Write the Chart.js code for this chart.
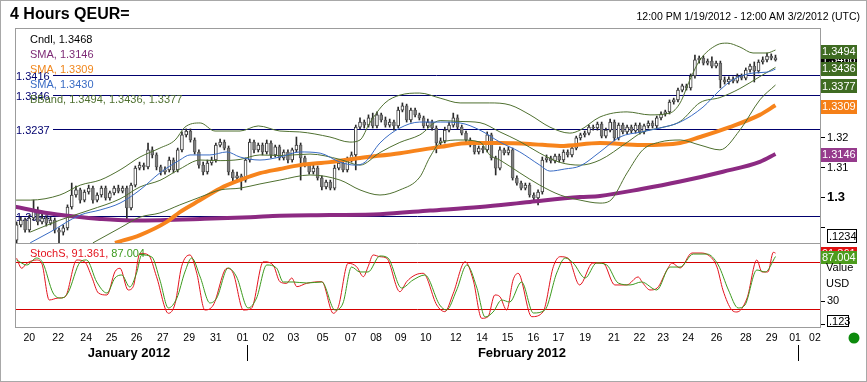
<!DOCTYPE html>
<html><head><meta charset="utf-8">
<script src="https://cdn.jsdelivr.net/npm/chart.js@4.4.1/dist/chart.umd.min.js"></script>
<style>
html,body{margin:0;padding:0;background:#fff;}
#wrap{position:relative;width:867px;height:382px;overflow:hidden;font-family:"Liberation Sans",Arial,sans-serif;}
#c{position:absolute;left:0;top:0;}
#title{position:absolute;left:10px;top:4px;font-weight:bold;font-size:16px;line-height:19px;color:#000;}
#range{position:absolute;right:7px;top:10px;font-size:10.5px;line-height:12px;color:#000;}
</style></head>
<body><div id="wrap"><canvas id="c" width="867" height="382"></canvas>
<div id="title">4 Hours QEUR=</div>
<div id="range">12:00 PM 1/19/2012 - 12:00 AM 3/2/2012 (UTC)</div></div>
<script>
// ---------- candles (4-hour bars, index 0 = 1/19 12:00) ----------
const open = [
1.2858,1.2909,1.2925,1.2892,1.2932,1.2959,1.2919,1.2932,1.2915,1.2925,
1.2892,1.2885,1.2899,1.2969,1.3009,1.3026,1.2992,1.3019,1.3032,1.2992,
1.3009,1.3032,1.2999,1.3016,1.3032,1.3022,1.3032,1.2966,1.3042,1.3099,
1.3109,1.3103,1.3160,1.3143,1.3103,1.3086,1.3093,1.3126,1.3093,1.3160,
1.3210,1.3223,1.3193,1.3153,1.3109,1.3086,1.3116,1.3126,1.3176,1.3186,
1.3166,1.3086,1.3066,1.3073,1.3059,1.3126,1.3186,1.3160,1.3176,1.3153,
1.3183,1.3143,1.3170,1.3133,1.3153,1.3126,1.3160,1.3176,1.3133,1.3109,
1.3086,1.3099,1.3066,1.3036,1.3052,1.3032,1.3099,1.3116,1.3093,1.3126,
1.3143,1.3236,1.3253,1.3243,1.3267,1.3240,1.3277,1.3260,1.3243,1.3253,
1.3240,1.3293,1.3307,1.3260,1.3293,1.3277,1.3267,1.3240,1.3253,1.3233,
1.3183,1.3190,1.3226,1.3243,1.3267,1.3236,1.3216,1.3193,1.3176,1.3153,
1.3166,1.3160,1.3210,1.3133,1.3099,1.3160,1.3150,1.3160,1.3066,1.3049,
1.3032,1.3042,1.3009,1.2999,1.3019,1.3126,1.3133,1.3123,1.3139,1.3126,
1.3153,1.3143,1.3166,1.3200,1.3210,1.3216,1.3236,1.3233,1.3246,1.3206,
1.3226,1.3253,1.3200,1.3243,1.3220,1.3236,1.3223,1.3243,1.3220,1.3240,
1.3250,1.3240,1.3267,1.3280,1.3287,1.3320,1.3327,1.3360,1.3374,1.3367,
1.3407,1.3461,1.3467,1.3450,1.3457,1.3440,1.3450,1.3394,1.3387,1.3397,
1.3390,1.3407,1.3400,1.3427,1.3440,1.3424,1.3454,1.3461,1.3474,1.3461];
const high = [
1.2919,1.2935,1.2932,1.2942,1.2992,1.2969,1.2945,1.2939,1.2935,1.2932,
1.2899,1.2909,1.2976,1.3049,1.3039,1.3032,1.3026,1.3042,1.3039,1.3016,
1.3039,1.3039,1.3022,1.3039,1.3042,1.3039,1.3039,1.3049,1.3106,1.3119,
1.3116,1.3183,1.3170,1.3150,1.3109,1.3103,1.3136,1.3133,1.3166,1.3220,
1.3230,1.3230,1.3200,1.3160,1.3119,1.3126,1.3136,1.3183,1.3196,1.3193,
1.3173,1.3093,1.3086,1.3079,1.3133,1.3196,1.3193,1.3183,1.3183,1.3193,
1.3190,1.3176,1.3176,1.3160,1.3160,1.3166,1.3203,1.3183,1.3139,1.3116,
1.3109,1.3106,1.3073,1.3059,1.3059,1.3109,1.3126,1.3123,1.3136,1.3153,
1.3243,1.3267,1.3260,1.3277,1.3283,1.3287,1.3283,1.3270,1.3263,1.3260,
1.3303,1.3317,1.3313,1.3300,1.3300,1.3283,1.3273,1.3263,1.3260,1.3240,
1.3200,1.3236,1.3253,1.3283,1.3277,1.3243,1.3223,1.3200,1.3183,1.3173,
1.3173,1.3220,1.3216,1.3139,1.3170,1.3166,1.3170,1.3166,1.3073,1.3056,
1.3049,1.3049,1.3016,1.3026,1.3136,1.3143,1.3139,1.3146,1.3146,1.3160,
1.3160,1.3173,1.3206,1.3216,1.3223,1.3243,1.3243,1.3253,1.3253,1.3233,
1.3263,1.3260,1.3250,1.3250,1.3243,1.3243,1.3250,1.3250,1.3246,1.3257,
1.3257,1.3273,1.3287,1.3293,1.3327,1.3333,1.3367,1.3380,1.3380,1.3414,
1.3477,1.3474,1.3474,1.3464,1.3471,1.3457,1.3457,1.3404,1.3404,1.3404,
1.3414,1.3414,1.3434,1.3447,1.3454,1.3461,1.3471,1.3484,1.3481,1.3477];
const low = [
1.2845,1.2902,1.2885,1.2885,1.2925,1.2909,1.2912,1.2905,1.2909,1.2882,
1.2848,1.2875,1.2892,1.2962,1.3002,1.2982,1.2986,1.3012,1.2982,1.2986,
1.3002,1.2992,1.2992,1.3009,1.3016,1.3016,1.2925,1.2959,1.3036,1.3093,
1.3093,1.3096,1.3133,1.3093,1.3076,1.3079,1.3086,1.3083,1.3086,1.3153,
1.3203,1.3186,1.3146,1.3099,1.3076,1.3079,1.3109,1.3119,1.3170,1.3160,
1.3076,1.3049,1.3059,1.3026,1.3052,1.3119,1.3150,1.3153,1.3143,1.3146,
1.3133,1.3136,1.3126,1.3126,1.3116,1.3119,1.3153,1.3059,1.3103,1.3079,
1.3079,1.3059,1.3026,1.3029,1.3026,1.3026,1.3093,1.3086,1.3086,1.3119,
1.3093,1.3230,1.3233,1.3236,1.3233,1.3233,1.3253,1.3236,1.3236,1.3226,
1.3233,1.3287,1.3253,1.3253,1.3270,1.3260,1.3233,1.3233,1.3226,1.3150,
1.3176,1.3183,1.3220,1.3236,1.3230,1.3210,1.3186,1.3170,1.3146,1.3146,
1.3150,1.3153,1.3126,1.3076,1.3093,1.3143,1.3143,1.3059,1.3042,1.3026,
1.3026,1.3002,1.2992,1.2976,1.3012,1.3119,1.3116,1.3116,1.3119,1.3119,
1.3136,1.3136,1.3160,1.3193,1.3203,1.3210,1.3226,1.3226,1.3200,1.3200,
1.3220,1.3190,1.3193,1.3213,1.3213,1.3216,1.3216,1.3213,1.3213,1.3233,
1.3233,1.3233,1.3260,1.3273,1.3280,1.3313,1.3320,1.3354,1.3360,1.3360,
1.3400,1.3450,1.3444,1.3444,1.3434,1.3434,1.3367,1.3380,1.3380,1.3384,
1.3384,1.3394,1.3394,1.3420,1.3387,1.3417,1.3447,1.3454,1.3461,1.3457];
const close = [
1.2909,1.2925,1.2892,1.2932,1.2959,1.2919,1.2932,1.2915,1.2925,1.2892,
1.2885,1.2899,1.2969,1.3009,1.3026,1.2992,1.3019,1.3032,1.2992,1.3009,
1.3032,1.2999,1.3016,1.3032,1.3022,1.3032,1.2966,1.3042,1.3099,1.3109,
1.3103,1.3160,1.3143,1.3103,1.3086,1.3093,1.3126,1.3093,1.3160,1.3210,
1.3223,1.3193,1.3153,1.3109,1.3086,1.3116,1.3126,1.3176,1.3186,1.3166,
1.3086,1.3066,1.3073,1.3059,1.3126,1.3186,1.3160,1.3176,1.3153,1.3183,
1.3143,1.3170,1.3133,1.3153,1.3126,1.3160,1.3176,1.3133,1.3109,1.3086,
1.3099,1.3066,1.3036,1.3052,1.3032,1.3099,1.3116,1.3093,1.3126,1.3143,
1.3236,1.3253,1.3243,1.3267,1.3240,1.3277,1.3260,1.3243,1.3253,1.3240,
1.3293,1.3307,1.3260,1.3293,1.3277,1.3267,1.3240,1.3253,1.3233,1.3183,
1.3190,1.3226,1.3243,1.3267,1.3236,1.3216,1.3193,1.3176,1.3153,1.3166,
1.3160,1.3210,1.3133,1.3099,1.3160,1.3150,1.3160,1.3066,1.3049,1.3032,
1.3042,1.3009,1.2999,1.3019,1.3126,1.3133,1.3123,1.3139,1.3126,1.3153,
1.3143,1.3166,1.3200,1.3210,1.3216,1.3236,1.3233,1.3246,1.3206,1.3226,
1.3253,1.3200,1.3243,1.3220,1.3236,1.3223,1.3243,1.3220,1.3240,1.3250,
1.3240,1.3267,1.3280,1.3287,1.3320,1.3327,1.3360,1.3374,1.3367,1.3407,
1.3461,1.3467,1.3450,1.3457,1.3440,1.3450,1.3394,1.3387,1.3397,1.3390,
1.3407,1.3400,1.3427,1.3440,1.3424,1.3454,1.3461,1.3474,1.3467,1.3468];

// ---------- indicator lines (bar index, value) ----------
const smaPurpleIdx = [-0.4,6.7,13.8,19.7,26.7,33.8,43.3,55.1,62.1,73.9,85.7,97.5,109.3,121.1,132.9,137.6,147.4,156.5,166.6,175.3,179];
const smaPurpleVal = [1.2970,1.2950,1.2937,1.2929,1.2924,1.2925,1.2929,1.2935,1.2940,1.2942,1.2945,1.2957,1.2969,1.2986,1.3002,1.3006,1.3029,1.3054,1.3087,1.3120,1.3146];
const smaOrangeIdx = [23.2,29.1,35.4,38.5,43.3,48,52.7,57.4,62.1,66.8,73.9,81,90.4,99.9,107,114,121.1,128.2,137.6,147.4,156.5,161.2,168.2,175.3,179];
const smaOrangeVal = [1.2849,1.2875,1.2919,1.2952,1.2992,1.3031,1.3059,1.3082,1.3096,1.3109,1.3119,1.3133,1.3149,1.3170,1.3183,1.3183,1.3180,1.3173,1.3183,1.3176,1.3183,1.3203,1.3236,1.3277,1.3309];
const smaBlueIdx = [3.2,7.9,15,19.7,24.4,29.1,33.8,38.5,40.9,45.6,49.6,52.7,57.4,62.1,66.8,71.6,76.3,79.8,82.2,85.7,90.4,95.1,99.9,104.6,109.3,114,118.7,123.4,125.8,129.3,132.9,137.6,142.3,147.4,151.7,156.5,161.9,165.9,168.9,173.7,177,179];
const smaBlueVal = [1.2849,1.2885,1.2942,1.2959,1.2982,1.3026,1.3083,1.3126,1.3143,1.3143,1.3153,1.3136,1.3126,1.3136,1.3153,1.3149,1.3119,1.3109,1.3119,1.3183,1.3233,1.3253,1.3253,1.3250,1.3226,1.3186,1.3153,1.3109,1.3089,1.3096,1.3106,1.3153,1.3203,1.3220,1.3233,1.3253,1.3303,1.3360,1.3394,1.3417,1.3420,1.3430];
const bbUpperIdx = [-0.4,3.2,10.2,15,19.7,24.4,29.1,33.8,37.4,39.7,43.3,46.8,52.7,57,62.1,66.8,73.9,78.6,81,83.3,86.9,90.4,95.1,99.9,104.6,111.6,116.4,121.1,125.8,130.5,132.9,137.6,144,149.4,154.1,156.5,158.8,161.2,165.2,167.6,170.6,173.7,177,179];
const bbUpperVal = [1.2992,1.2992,1.3009,1.3042,1.3059,1.3093,1.3136,1.3166,1.3193,1.3236,1.3250,1.3223,1.3223,1.3240,1.3223,1.3220,1.3203,1.3186,1.3193,1.3250,1.3317,1.3343,1.3350,1.3333,1.3317,1.3317,1.3310,1.3277,1.3236,1.3216,1.3226,1.3270,1.3287,1.3277,1.3283,1.3317,1.3394,1.3461,1.3511,1.3517,1.3504,1.3484,1.3484,1.3494];
const bbMidIdx = [3.2,10.2,17.3,24.4,29.1,33.8,38.5,43.3,48,52.7,57.4,62.1,69.2,76.3,81,85.7,90.4,95.1,99.9,104.6,109.3,114,118.7,123.4,128.2,132.9,137.6,144,147.7,151.7,156.5,161.2,165.9,170.6,175.3,179];
const bbMidVal = [1.2885,1.2925,1.2959,1.2996,1.3036,1.3058,1.3096,1.3126,1.3124,1.3128,1.3143,1.3141,1.3146,1.3128,1.3109,1.3151,1.3185,1.3210,1.3258,1.3255,1.3251,1.3220,1.3188,1.3149,1.3118,1.3109,1.3126,1.3185,1.3220,1.3233,1.3255,1.3318,1.3335,1.3365,1.3405,1.3436];
const bbLowIdx = [18,24.4,29.1,33.8,38.5,43.3,48,52.7,57.4,62.1,69.2,76.3,81,85.7,90.4,95.1,97.5,99.9,104.6,109.3,111.6,114,118.7,123.4,128.2,132.9,137.6,139.9,144,147.7,151.7,156.5,161.2,165.9,170.6,175.3,179];
const bbLowVal = [1.2849,1.2899,1.2935,1.2949,1.2976,1.3002,1.3026,1.3032,1.3046,1.3059,1.3076,1.3059,1.3026,1.3009,1.3026,1.3069,1.3136,1.3183,1.3193,1.3186,1.3143,1.3126,1.3083,1.3042,1.3009,1.2992,1.2982,1.2989,1.3083,1.3160,1.3186,1.3193,1.3176,1.3160,1.3226,1.3327,1.3377];

// ---------- slow stochastic ----------
const stochKIdx = [0,1.2,2.4,4.7,5.9,7.7,9.8,11.4,14.2,16.1,17.7,19.3,21.3,23.2,24.4,26.3,27.5,29.1,31.1,33,35.8,37.4,38.9,40.9,42.5,44.4,46.4,49.6,51.1,53.5,55.4,58.2,60.5,62.1,63.7,64.9,66.1,68.4,72,74.7,75.9,78.2,80.2,81.8,82.9,84.1,85.7,87.3,90.4,92,94,95.9,99.1,101,103,105.8,107.7,109.7,111.2,112.8,114,115.6,117.1,118.3,121.5,124.2,126.6,128.2,130.1,132.8,135.9,138.3,141.1,143.9,146.6,147.7,149.4,151.1,153.4,154.6,156.5,159.3,161.2,163.1,165.2,166.6,168.7,169.9,172.3,174.6,175.8,177.2,178.5,179];
const stochKVal = [84.8,72,78.4,82.6,78.7,31.5,34,35.3,82.6,80,61.3,40.4,37.9,67.6,72,44.3,48.5,91.1,89,61.3,14.5,27.3,74,89,65.6,18.7,25.1,72,65.6,18.7,20.9,80.4,76.2,54.9,52.8,59.6,48.5,52.8,54.9,14.5,22.9,78.4,74,61.3,74,89,86.8,84.8,42.1,54.9,63.4,65.6,25.1,16.6,40.1,80.4,57,8.1,10.2,37.9,35.7,18.7,57,65.6,10.2,16.6,74,86.8,84.8,50.7,78.7,78.7,50.7,50.7,60.9,53.2,44.3,46.8,69.8,78.7,72.4,91.5,91.5,89,73.6,44.3,18.7,16.2,34,82.6,67.3,67.3,92.5,91.361];
const stochDIdx = [0,2.4,4.7,6.2,8.6,10.6,12.1,15,16.5,18.9,21.3,23.2,24.8,26.7,28.3,29.5,31.9,33.8,35.8,37.8,39.7,41.3,43.3,45.6,47.2,49.9,51.9,54.6,56.6,59,61.3,62.9,65.2,68.4,72,75.1,77,79,81,82.9,85.7,87.6,90.8,93.5,96.3,99.8,101.4,103.8,106.2,108.5,110.5,112.4,114.4,116.3,119.1,121.9,124.6,127.4,129.4,131.3,134.1,136.8,139.2,141.9,144.7,147.4,151,154.1,156.5,159.6,162.8,165.5,167.9,170.2,171.8,174.6,176.6,179];
const stochDVal = [82.6,76.2,85.1,78.7,40.4,34,40.4,80,82.6,54.5,40.4,59.6,63.4,48.1,66,89,86.4,57,21.3,34,67.3,85.1,60.9,27.7,34,72.4,60.9,21.3,34,76.2,72.4,54.5,54.5,53.2,54.5,18.7,27.7,73.6,67.3,67.3,87.7,85.1,46.8,57,63.4,25.1,18.7,44.3,76.2,48.1,9.8,16.2,31.5,28.9,54.5,14.9,18.7,66,85.1,78.7,59.6,78.7,76.2,53.2,50.7,54.5,44.3,73.6,73.6,90.2,90.2,76.2,44.3,21.3,25.1,69.8,67.3,87.004];
const stochBands = [80, 20];

// ---------- drawn horizontal levels ----------
const levelValues = [1.3410, 1.3343, 1.3231, 1.2940];
const levelLabels = ['1.3416', '1.3346', '1.3237', '1.2994'];

// ---------- axes ----------
const dayTickIdx = [3.0,9.8,16.4,22.4,28.3,34.5,40.7,47.0,53.3,59.4,65.3,72.2,78.8,84.8,90.6,96.5,103.6,109.8,115.8,121.9,127.8,134.1,140.9,146.9,152.5,158.4,165.1,172.0,178.1,183.6,188.3];
const dayTickLabels = ['20','22','24','25','26','27','29','31','01','02','03','05','07','08','09','10','12','14','15','16','17','19','21','22','23','24','26','28','29','01','02'];
const monthLabels = ['January 2012', 'February 2012'];
const monthLabelIdx = [26.5, 119.2];
const monthMarkIdx = [54.4, 184.4];
const priceTickVals = [1.29, 1.30, 1.31, 1.32];
const priceTickText = ['', '1.3', '1.31', '1.32'];
const stochTickVals = [0, 30];
const stochTickText = ['', '30'];

const FONT = '"Liberation Sans", Arial, sans-serif';
Chart.defaults.font.family = FONT;
Chart.defaults.color = '#000';

const pts = (idx, val) => idx.slice(0, Math.min(idx.length, val.length)).map((x, k) => ({x, y: val[k]}));
const barIdx = close.map((_, i) => i);
const last = a => a[a.length - 1];
const isUp = barIdx.map(i => close[i] >= open[i]);

const C = {
  purple: '#8c2a82', orange: '#f7841c', blue: '#3a6cc4', bb: '#4f7030',
  stochK: '#e3141e', stochD: '#3c9a1e', navy: '#00006e', frame: '#9c9c9c'
};

function lineDs(label, idx, val, color, width, order, axis) {
  return {type: 'line', label, data: pts(idx, val), borderColor: color, borderWidth: width,
    pointRadius: 0, cubicInterpolationMode: 'monotone', fill: false, yAxisID: axis || 'y', order, clip: 0};
}

const overlay = {
  id: 'overlay',
  beforeDatasetsDraw(chart) {
    const {ctx, chartArea: a, scales: {y, y2}} = chart;
    ctx.save();
    ctx.lineWidth = 1;
    ctx.font = '11px ' + FONT;
    ctx.textBaseline = 'middle';
    ctx.textAlign = 'left';
    levelValues.forEach((v, k) => {
      const py = Math.round(y.getPixelForValue(v)) + 0.5;
      const sx = k === levelValues.length - 1 ? a.left : a.left + 38;
      ctx.strokeStyle = C.navy;
      ctx.beginPath(); ctx.moveTo(sx, py); ctx.lineTo(a.right, py); ctx.stroke();
      ctx.fillStyle = C.navy;
      ctx.fillText(levelLabels[k], a.left + 1, py + 1);
    });
    stochBands.forEach(v => {
      const py = Math.round(y2.getPixelForValue(v)) + 0.5;
      ctx.strokeStyle = '#d40000';
      ctx.beginPath(); ctx.moveTo(a.left, py); ctx.lineTo(a.right, py); ctx.stroke();
    });
    ctx.restore();
  },
  afterDatasetsDraw(chart) {
    const {ctx, chartArea: a, scales: {x, y, y2}} = chart;
    ctx.save();
    // frame
    ctx.strokeStyle = C.frame; ctx.lineWidth = 1;
    ctx.strokeRect(a.left + 0.5, a.top + 0.5, a.right - a.left, a.bottom - a.top);
    const mid = Math.round(y.bottom) + 0.5;
    ctx.beginPath(); ctx.moveTo(a.left, mid); ctx.lineTo(a.right, mid); ctx.stroke();
    // outer border
    ctx.strokeStyle = '#a8a8a8';
    ctx.strokeRect(0.5, 0.5, chart.width - 1, chart.height - 1);

    // legends
    ctx.font = '11px ' + FONT; ctx.textBaseline = 'middle'; ctx.textAlign = 'left';
    const rows = [
      ['Cndl, ' + last(close).toFixed(4), '#000000'],
      ['SMA, ' + last(smaPurpleVal).toFixed(4), '#7d2a75'],
      ['SMA, ' + last(smaOrangeVal).toFixed(4), '#f0861c'],
      ['SMA, ' + last(smaBlueVal).toFixed(4), C.blue],
      ['BBand, ' + [last(bbUpperVal), last(bbMidVal), last(bbLowVal)].map(v => v.toFixed(4)).join(', '), C.bb]
    ];
    rows.forEach((r, k) => { ctx.fillStyle = r[1]; ctx.fillText(r[0], a.left + 15, a.top + 11.5 + k * 15); });
    const s1 = 'StochS, ' + last(stochKVal).toFixed(3) + ', ';
    ctx.fillStyle = C.stochK; ctx.fillText(s1, a.left + 15, y2.top + 10.5);
    ctx.fillStyle = C.stochD; ctx.fillText(last(stochDVal).toFixed(3), a.left + 15 + ctx.measureText(s1).width, y2.top + 10.5);

    // right value boxes
    const bx = a.right + 1, bw = 36;
    function box(py, bg, fg, text, h) {
      h = h || 14;
      ctx.fillStyle = bg; ctx.fillRect(bx, Math.round(py - h / 2), bw, h);
      ctx.fillStyle = fg; ctx.fillText(text, bx + 1, py + 0.5);
    }
    box(y.getPixelForValue(last(close)) + 2, '#000000', '#ffffff', last(close).toFixed(4));
    box(y.getPixelForValue(last(bbUpperVal)) + 1.5, '#3f6b22', '#ffffff', last(bbUpperVal).toFixed(4));
    box(y.getPixelForValue(last(bbMidVal)) + 1.5, '#3f6b22', '#ffffff', last(bbMidVal).toFixed(4));
    box(y.getPixelForValue(last(bbLowVal)) + 1.5, '#3f6b22', '#ffffff', last(bbLowVal).toFixed(4));
    box(y.getPixelForValue(last(smaOrangeVal)) + 1.5, '#f57f17', '#ffffff', last(smaOrangeVal).toFixed(4));
    box(y.getPixelForValue(last(smaPurpleVal)) + 0.5, '#953a8c', '#ffffff', last(smaPurpleVal).toFixed(4));
    box(y2.getPixelForValue(last(stochKVal)), '#e01010', '#ffffff', last(stochKVal).toFixed(3), 13);
    box(y2.getPixelForValue(last(stochDVal)) + 0.5, '#4c9c1c', '#ffffff', last(stochDVal).toFixed(3), 13);

    // decimal boxes + unit labels
    function outlined(x0, y0, w, h, text) {
      ctx.fillStyle = '#fff'; ctx.fillRect(x0, y0, w, h);
      ctx.strokeStyle = '#000'; ctx.strokeRect(x0 + 0.5, y0 + 0.5, w - 1, h - 1);
      ctx.fillStyle = '#000'; ctx.fillText(text, x0 + 2, y0 + h / 2 + 0.5);
    }
    outlined(827, Math.round(y.bottom) - 14, 30, 14, '.1234');
    outlined(827, Math.round(y2.bottom) - 12, 22, 12, '.123');
    ctx.fillStyle = '#000';
    ctx.fillText('Value', 826, y2.top + 25);
    ctx.fillText('USD', 826, y2.top + 41);

    // month labels & markers
    ctx.font = 'bold 13px ' + FONT; ctx.textAlign = 'center';
    monthLabels.forEach((t, k) => ctx.fillText(t, x.getPixelForValue(monthLabelIdx[k]), a.bottom + 26));
    ctx.strokeStyle = '#000';
    monthMarkIdx.forEach(v => {
      const px = Math.round(x.getPixelForValue(v)) + 0.5;
      ctx.beginPath(); ctx.moveTo(px, a.bottom + 18); ctx.lineTo(px, a.bottom + 34); ctx.stroke();
    });
    // status dot
    ctx.fillStyle = '#0c8a0c';
    ctx.beginPath(); ctx.arc(854, a.bottom + 11, 5.5, 0, Math.PI * 2); ctx.fill();
    ctx.restore();
  }
};

new Chart(document.getElementById('c'), {
  type: 'bar',
  data: {
    datasets: [
      lineDs('SMA purple', smaPurpleIdx, smaPurpleVal, C.purple, 4, 6),
      lineDs('SMA orange', smaOrangeIdx, smaOrangeVal, C.orange, 4, 5),
      lineDs('BB upper', bbUpperIdx, bbUpperVal, C.bb, 1, 4),
      lineDs('BB mid', bbMidIdx, bbMidVal, C.bb, 1, 4),
      lineDs('BB lower', bbLowIdx, bbLowVal, C.bb, 1, 4),
      lineDs('SMA blue', smaBlueIdx, smaBlueVal, C.blue, 1, 3),
      {type: 'bar', label: 'wick', data: barIdx.map(i => ({x: i, y: [low[i], high[i]]})),
        backgroundColor: '#2a2a2a', barThickness: 1, grouped: false, order: 11, yAxisID: 'y'},
      {type: 'bar', label: 'body', data: barIdx.map(i => ({x: i, y: [open[i], close[i]]})),
        backgroundColor: isUp.map(u => u ? '#ffffff' : '#808080'),
        borderColor: isUp.map(u => u ? '#3a3a3a' : '#5a5a5a'),
        borderWidth: 1, borderSkipped: false, barThickness: 3, minBarLength: 1, grouped: false, order: 10, yAxisID: 'y'},
      lineDs('StochS %K', stochKIdx, stochKVal, C.stochK, 1, 1, 'y2'),
      lineDs('StochS %D', stochDIdx, stochDVal, C.stochD, 1, 0, 'y2')
    ]
  },
  options: {
    responsive: false, maintainAspectRatio: false, animation: false, devicePixelRatio: 1,
    layout: {padding: {left: 15, top: 28, right: 0, bottom: 0}},
    plugins: {legend: {display: false}, tooltip: {enabled: false}, title: {display: false}},
    scales: {
      x: {
        type: 'linear', position: 'bottom', min: -0.38, max: 189.5, offset: false,
        grid: {display: false, drawTicks: false}, border: {display: false},
        afterBuildTicks: s => { s.ticks = dayTickIdx.map(v => ({value: v})); },
        afterFit: s => { s.height = 55; },
        ticks: {autoSkip: false, maxRotation: 0, minRotation: 0, padding: 5, color: '#000',
          font: {size: 10.5, family: FONT}, callback: (v, i) => dayTickLabels[i]}
      },
      y: {
        type: 'linear', position: 'right', stack: 'panels', stackWeight: 215,
        min: 1.28485, max: 1.35676,
        grid: {drawOnChartArea: false, drawTicks: true, tickLength: 5, color: '#000'},
        border: {display: false},
        afterBuildTicks: s => { s.ticks = priceTickVals.map(v => ({value: v})); },
        afterFit: s => { s.width = 47; },
        ticks: {padding: 2, color: '#000', callback: (v, i) => priceTickText[i],
          font: c => c.index === 1 ? {size: 13, weight: 'bold', family: FONT} : {size: 11, family: FONT}}
      },
      y2: {
        type: 'linear', position: 'right', stack: 'panels', stackWeight: 84,
        min: -3, max: 104.3,
        grid: {drawOnChartArea: false, drawTicks: true, tickLength: 5, color: '#000'},
        border: {display: false},
        afterBuildTicks: s => { s.ticks = stochTickVals.map(v => ({value: v})); },
        afterFit: s => { s.width = 47; },
        ticks: {padding: 2, color: '#000', font: {size: 11, family: FONT}, callback: (v, i) => stochTickText[i]}
      }
    }
  },
  plugins: [overlay]
});
</script>
</body></html>
